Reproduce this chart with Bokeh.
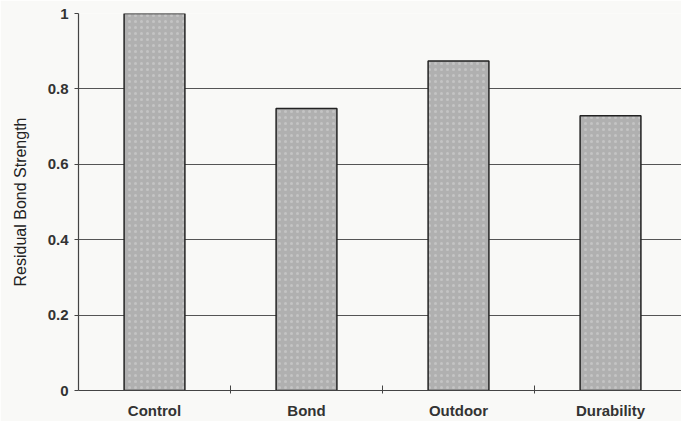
from bokeh.plotting import figure
from bokeh.models import FixedTicker, Range1d, ColumnDataSource
from bokeh.embed import file_html
from bokeh.resources import INLINE

categories = ["Control", "Bond", "Outdoor", "Durability"]
values = [1.0, 0.748, 0.874, 0.729]
y_ticks = [0, 0.2, 0.4, 0.6, 0.8, 1.0]
y_tick_labels = ["0", "0.2", "0.4", "0.6", "0.8", "1"]

xpos = [i + 0.5 for i in range(len(categories))]
src = ColumnDataSource(dict(x=xpos, top=values, name=categories))

p = figure(width=681, height=421, output_backend="svg", toolbar_location=None,
           x_range=Range1d(0, 3.967), y_range=Range1d(0, 1.0),
           min_border_left=78, min_border_right=0, min_border_top=13, min_border_bottom=31)
p.background_fill_color = "#f9f9f7"
p.border_fill_color = "#f9f9f7"
p.outline_line_color = None

p.vbar(x="x", top="top", bottom=0, width=0.4, source=src,
       fill_color="#b0b0b0", line_color="#222222", line_width=1.5,
       hatch_pattern="dot", hatch_color="#d8d8d8", hatch_alpha=0.5, hatch_scale=6, hatch_weight=1.5)

# y axis
p.yaxis.ticker = FixedTicker(ticks=y_ticks)
p.yaxis.major_label_overrides = {t: l for t, l in zip(y_ticks, y_tick_labels)}
p.yaxis.axis_label = "Residual Bond Strength"
p.yaxis.axis_label_text_font = "Liberation Sans"
p.yaxis.axis_label_text_font_style = "normal"
p.yaxis.axis_label_text_font_size = "16px"
p.yaxis.axis_label_text_color = "#222222"
p.yaxis.axis_label_standoff = 16
p.yaxis.major_label_text_font = "Liberation Sans"
p.yaxis.major_label_text_font_size = "15px"
p.yaxis.major_label_text_font_style = "bold"
p.yaxis.major_label_text_color = "#333333"
p.yaxis.major_tick_in = 0
p.yaxis.major_tick_out = 4
p.yaxis.minor_tick_line_color = None
p.yaxis.axis_line_color = "#444444"
p.yaxis.axis_line_width = 1.2
p.yaxis.major_tick_line_color = "#444444"
p.yaxis.major_label_standoff = 6

# x axis
p.xaxis.ticker = FixedTicker(ticks=xpos, minor_ticks=[1, 2, 3])
p.xaxis.major_label_overrides = {x: c for x, c in zip(xpos, categories)}
p.xaxis.major_label_text_font = "Liberation Sans"
p.xaxis.major_label_text_font_size = "15px"
p.xaxis.major_label_text_font_style = "bold"
p.xaxis.major_label_text_color = "#333333"
p.xaxis.major_tick_line_color = None
p.xaxis.minor_tick_in = 5
p.xaxis.minor_tick_out = 3
p.xaxis.minor_tick_line_color = "#444444"
p.xaxis.axis_line_color = "#444444"
p.xaxis.axis_line_width = 1.2
p.xaxis.major_label_standoff = 5

p.xgrid.grid_line_color = None
p.ygrid.ticker = FixedTicker(ticks=y_ticks)
p.ygrid.grid_line_color = "#555555"
p.ygrid.grid_line_width = 1

open("out.html", "w").write(file_html(p, INLINE))
